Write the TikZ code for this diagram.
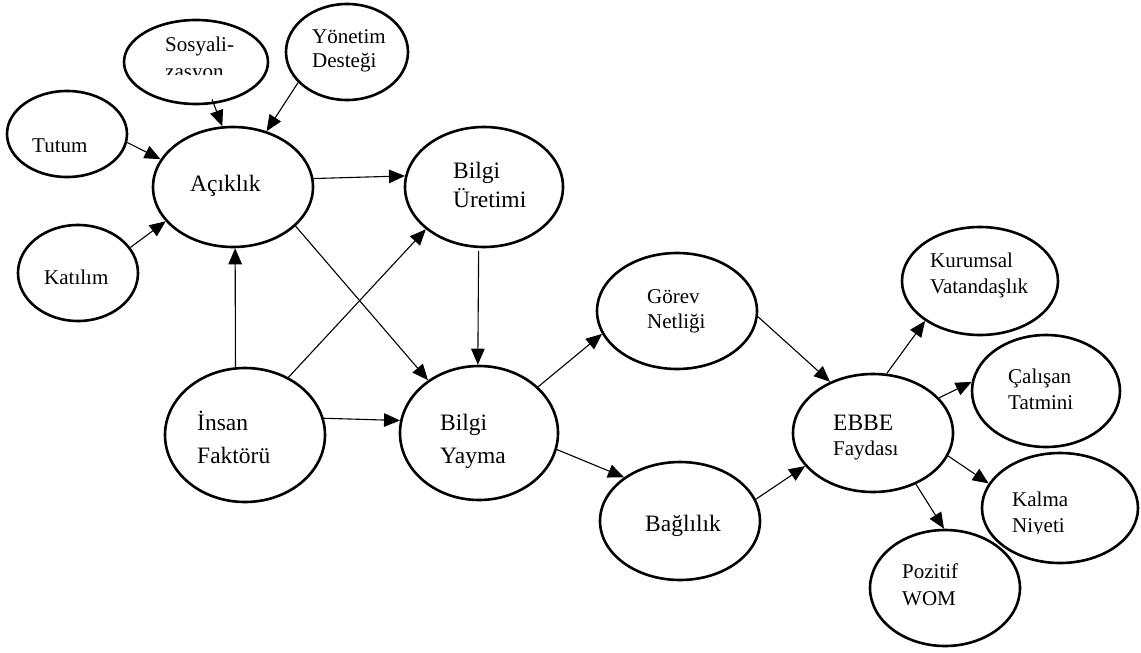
\documentclass[tikz,border=0pt]{standalone}
\usepackage{fontspec}
\setmainfont{Liberation Serif}
\usetikzlibrary{shapes.geometric,arrows.meta}
\begin{document}
\begin{tikzpicture}[x=1pt,y=-1pt,
  construct/.style={draw, ellipse, line width=2.6pt, inner sep=0pt},
  link/.style={line width=1.1pt, -{Triangle[length=16pt,width=13.5pt]}},
  lbl/.style={anchor=base west, inner sep=0pt, font=\fontsize{21}{25}\selectfont},
  lblbig/.style={anchor=base west, inner sep=0pt, font=\fontsize{23.5}{28}\selectfont}]
\useasboundingbox (0,0) rectangle (1141,653);

% constructs
\node[construct, minimum width=144pt, minimum height=84pt]  (sos)     at (196,62)  {};
\node[construct, minimum width=122pt, minimum height=96pt]  (yon)     at (347,52)  {};
\node[construct, minimum width=120pt, minimum height=86pt]  (tutum)   at (67,134)  {};
\node[construct, minimum width=160pt, minimum height=120pt] (acik)    at (233,187) {};
\node[construct, minimum width=120pt, minimum height=96pt]  (katilim) at (78,273)  {};
\node[construct, minimum width=158pt, minimum height=120pt] (bilur)   at (484,187) {};
\node[construct, minimum width=160pt, minimum height=134pt] (insan)   at (245,435) {};
\node[construct, minimum width=158pt, minimum height=134pt] (bilyay)  at (479,433) {};
\node[construct, minimum width=160pt, minimum height=116pt] (gorev)   at (677,311) {};
\node[construct, minimum width=160pt, minimum height=118pt] (bag)     at (680,521) {};
\node[construct, minimum width=160pt, minimum height=118pt] (ebbe)    at (873,433) {};
\node[construct, minimum width=156pt, minimum height=108pt] (kurum)   at (980,281) {};
\node[construct, minimum width=148pt, minimum height=112pt] (calisan) at (1046,391) {};
\node[construct, minimum width=156pt, minimum height=110pt] (kalma)   at (1060,508) {};
\node[construct, minimum width=150pt, minimum height=116pt] (pozitif) at (945,588) {};

% labels (text boxes clip some of them at the bottom)
\begin{scope}
  \clip (140,20) rectangle (260,74);
  \node[lbl] (sos-a) at (165,51) {Sosyali-};
  \node[lbl] (sos-b) at (165,78) {zasyon};
\end{scope}
\node[lbl] (yon-a) at (312,43) {Yönetim};
\node[lbl] (yon-b) at (312,67) {Desteği};
\begin{scope}
  \clip (20,120) rectangle (120,151);
  \node[lbl] (tutum-a) at (32,152) {Tutum};
\end{scope}
\begin{scope}
  \clip (30,250) rectangle (130,283);
  \node[lbl] (katilim-a) at (44,284) {Katılım};
\end{scope}
\node[lblbig] (acik-a) at (190,191) {Açıklık};
\node[lblbig] (bilur-a) at (453,178) {Bilgi};
\node[lblbig] (bilur-b) at (453,207) {Üretimi};
\node[lblbig] (insan-a) at (197,430) {İnsan};
\node[lblbig] (insan-b) at (197,463) {Faktörü};
\node[lblbig] (bilyay-a) at (440,430) {Bilgi};
\node[lblbig] (bilyay-b) at (440,463) {Yayma};
\node[lbl] (gorev-a) at (647,303) {Görev};
\node[lbl] (gorev-b) at (647,328) {Netliği};
\node[lblbig] (bag-a) at (645,531) {Bağlılık};
\node[lblbig] (ebbe-a) at (833,430) {EBBE};
\node[lbl] (ebbe-b) at (833,455) {Faydası};
\node[lbl] (kurum-a) at (930,267) {Kurumsal};
\node[lbl] (kurum-b) at (930,293) {Vatandaşlık};
\node[lbl] (calisan-a) at (1008,383) {Çalışan};
\node[lbl] (calisan-b) at (1008,409) {Tatmini};
\begin{scope}
  \clip (1000,480) rectangle (1100,533);
  \node[lbl] (kalma-a) at (1012,506) {Kalma};
  \node[lbl] (kalma-b) at (1012,532) {Niyeti};
\end{scope}
\node[lbl] (pozitif-a) at (902,578) {Pozitif};
\node[lbl] (pozitif-b) at (902,605) {WOM};

% paths
\draw[link, shorten <=-5pt] (sos.-67) -- (acik.100);
\draw[link] (yon.212) -- (acik.59);
\draw[link] (tutum.-8) -- (acik.159);
\draw[link] (katilim.26) -- (acik.207);
\draw[link] (acik.6) -- (bilur.172);
\draw[link] (insan.98) -- (acik.-88);
\draw[link] (insan.53) -- (bilur.216);
\draw[link] (acik.-32) -- (bilyay.134);
\draw[link, shorten <=3pt] (bilur.-95) -- (bilyay.91);
\draw[link] (insan.12) -- (bilyay.171);
\draw[link] (bilyay.38) -- (gorev.197);
\draw[link] (bilyay.-12) -- (bag.142);
\draw[link] (gorev.-4) -- (ebbe.130);
\draw[link] (bag.16) -- (ebbe.206);
\draw[link] (ebbe.77) -- (kurum.216);
\draw[link] (ebbe.28) -- (calisan.173);
\draw[link] (ebbe.-17) -- (kalma.161);
\draw[link] (ebbe.-50) -- (pozitif.91);
\end{tikzpicture}
\end{document}
